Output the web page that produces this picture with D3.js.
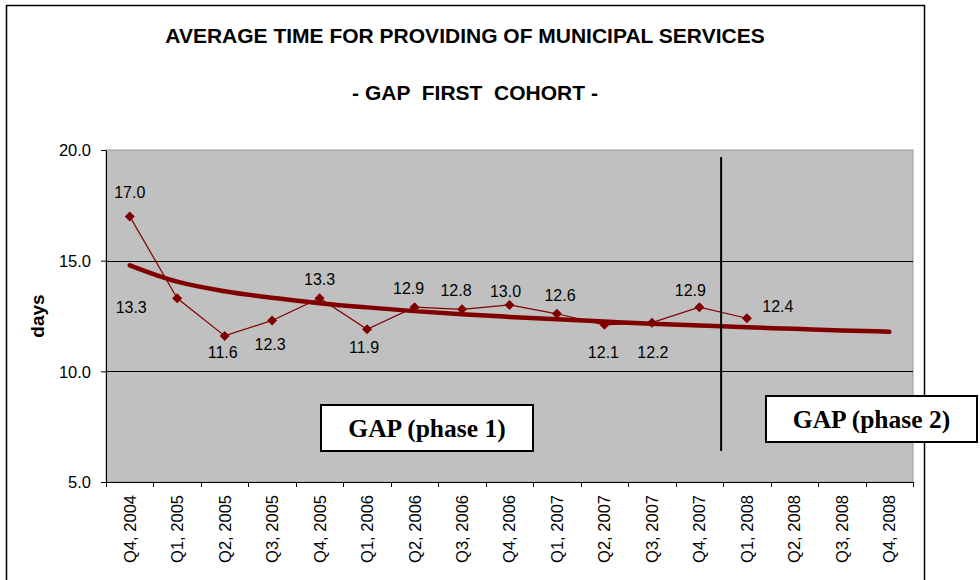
<!DOCTYPE html>
<html>
<head>
<meta charset="utf-8">
<script src="https://cdn.jsdelivr.net/npm/d3@7"></script>
<style>
  html, body { margin: 0; padding: 0; background: #fff; }
  svg { display: block; }
  text { font-family: "Liberation Sans", Arial, sans-serif; fill: #000; }
</style>
</head>
<body>
<svg id="chart" width="980" height="580"></svg>
<script>
// ---- data ----
const categories = ["Q4, 2004","Q1, 2005","Q2, 2005","Q3, 2005","Q4, 2005","Q1, 2006","Q2, 2006","Q3, 2006",
  "Q4, 2006","Q1, 2007","Q2, 2007","Q3, 2007","Q4, 2007","Q1, 2008","Q2, 2008","Q3, 2008","Q4, 2008"];
const values = [17.0, 13.3, 11.6, 12.3, 13.3, 11.9, 12.9, 12.8, 13.0, 12.6, 12.1, 12.2, 12.9, 12.4];
const trendValues = [14.79, 14.05, 13.62, 13.32, 13.08, 12.89, 12.72, 12.58, 12.46, 12.35, 12.25, 12.15,
  12.07, 11.99, 11.92, 11.85, 11.79];
const yTicks = [5, 10, 15, 20];
const gridValues = [10, 15];
const titleText = "AVERAGE TIME FOR PROVIDING OF MUNICIPAL SERVICES";
const subtitleText = "- GAP  FIRST  COHORT -";
const yAxisTitle = "days";
const phaseLabels = ["GAP (phase 1)", "GAP (phase 2)"];
const phaseBoundaryCategory = "Q1, 2008";

// ---- label placement (style, not data) ----
const labelOffsets = [[0,-18],[-46,15],[-2,22],[-2,30],[0,-13],[-3,24],[-6,-13],[-6,-13],[-4,-8],[3,-13],[-1,33],[1,35],[-9,-11],[31,-6]];

const svg = d3.select("#chart");
const color = "#800000";

const plot = { left: 106, top: 150, right: 913, bottom: 482 };

const x = d3.scaleBand().domain(categories).range([plot.left, plot.right]).padding(0);
const y = d3.scaleLinear().domain([5, 20]).range([plot.bottom, plot.top]);
const cx = c => x(c) + x.bandwidth() / 2;

// outer chart border
svg.append("rect").attr("x", 6.5).attr("y", 5.5).attr("width", 918).attr("height", 620)
  .attr("fill", "#fff").attr("stroke", "#000").attr("stroke-width", 1.5);

// titles
svg.append("text").attr("x", 465).attr("y", 43).attr("text-anchor", "middle")
  .style("font-size", "21px").style("font-weight", "bold").text(titleText);
svg.append("text").attr("x", 475).attr("y", 100).attr("text-anchor", "middle")
  .style("font-size", "21px").style("font-weight", "bold").style("white-space", "pre").text(subtitleText);

// plot area
svg.append("rect").attr("x", plot.left).attr("y", plot.top)
  .attr("width", plot.right - plot.left).attr("height", plot.bottom - plot.top)
  .attr("fill", "#C0C0C0").attr("stroke", "#9a9a9a").attr("stroke-width", 1);

// gridlines
svg.append("g").selectAll("line").data(gridValues).join("line")
  .attr("x1", plot.left).attr("x2", plot.right)
  .attr("y1", d => Math.round(y(d)) + 0.5).attr("y2", d => Math.round(y(d)) + 0.5)
  .attr("stroke", "#000").attr("stroke-width", 1);

// y axis
const yAxis = d3.axisLeft(y).tickValues(yTicks).tickFormat(d3.format(".1f")).tickSize(5).tickSizeOuter(0);
const gy = svg.append("g").attr("transform", `translate(${plot.left},0)`).call(yAxis);
gy.select(".domain").attr("stroke", "#000");
gy.selectAll(".tick line").attr("stroke", "#000");
gy.selectAll(".tick text").style("font-size", "16.5px").style("font-family", "'Liberation Sans', Arial, sans-serif")
  .attr("x", -15).attr("dy", "0.36em").attr("fill", "#000");

// x axis (ticks at category boundaries)
const gx = svg.append("g").attr("transform", `translate(0,${plot.bottom})`);
gx.append("line").attr("x1", plot.left).attr("x2", plot.right).attr("y1", 0.5).attr("y2", 0.5).attr("stroke", "#000");
const boundaries = categories.map(c => x(c)).concat([plot.right]);
gx.selectAll("line.tick").data(boundaries).join("line").attr("class", "tick")
  .attr("x1", d => Math.round(d) + 0.5).attr("x2", d => Math.round(d) + 0.5)
  .attr("y1", 0).attr("y2", 5).attr("stroke", "#000");
gx.selectAll("text").data(categories).join("text")
  .attr("transform", d => `translate(${cx(d)},13) rotate(-90)`)
  .attr("text-anchor", "end").attr("dy", "0.36em")
  .style("font-size", "16.5px").style("white-space", "pre").text(d => d);

// y axis title
svg.append("text").attr("transform", `translate(44,316) rotate(-90)`).attr("text-anchor", "middle")
  .style("font-size", "19px").style("font-weight", "bold").text(yAxisTitle);

// trend line
const trendLine = d3.line().x((d, i) => cx(categories[i])).y(d => y(d)).curve(d3.curveMonotoneX);
svg.append("path").datum(trendValues).attr("d", trendLine)
  .attr("fill", "none").attr("stroke", color).attr("stroke-width", 4.5).attr("stroke-linecap", "round");

// data line
const dataLine = d3.line().x((d, i) => cx(categories[i])).y(d => y(d));
svg.append("path").datum(values).attr("d", dataLine)
  .attr("fill", "none").attr("stroke", color).attr("stroke-width", 1.2);

// markers
svg.append("g").selectAll("path").data(values).join("path")
  .attr("transform", (d, i) => `translate(${cx(categories[i])},${y(d)})`)
  .attr("d", d3.symbol().type(d3.symbolDiamond2).size(64))
  .attr("fill", color);

// data labels
svg.append("g").selectAll("text").data(values).join("text")
  .attr("x", (d, i) => cx(categories[i]) + labelOffsets[i][0])
  .attr("y", (d, i) => y(d) + labelOffsets[i][1])
  .attr("text-anchor", "middle").style("font-size", "16px")
  .text(d => d3.format(".1f")(d));

// phase boundary line
const bx = x(phaseBoundaryCategory) - 2;
svg.append("line").attr("x1", bx).attr("x2", bx).attr("y1", 157).attr("y2", 451)
  .attr("stroke", "#000").attr("stroke-width", 2);

// phase boxes
const boxes = [
  { x: 321, y: 405, w: 212, h: 46, label: phaseLabels[0] },
  { x: 766, y: 396, w: 211, h: 46, label: phaseLabels[1] }
];
const bg = svg.append("g").selectAll("g").data(boxes).join("g");
bg.append("rect").attr("x", d => d.x).attr("y", d => d.y).attr("width", d => d.w).attr("height", d => d.h)
  .attr("fill", "#fff").attr("stroke", "#000").attr("stroke-width", 2);
bg.append("text").attr("x", d => d.x + d.w / 2).attr("y", d => d.y + d.h / 2 + 9)
  .attr("text-anchor", "middle")
  .style("font-family", "'Liberation Serif', 'Times New Roman', serif")
  .style("font-size", "25.5px").style("font-weight", "bold").text(d => d.label);
</script>
</body>
</html>
